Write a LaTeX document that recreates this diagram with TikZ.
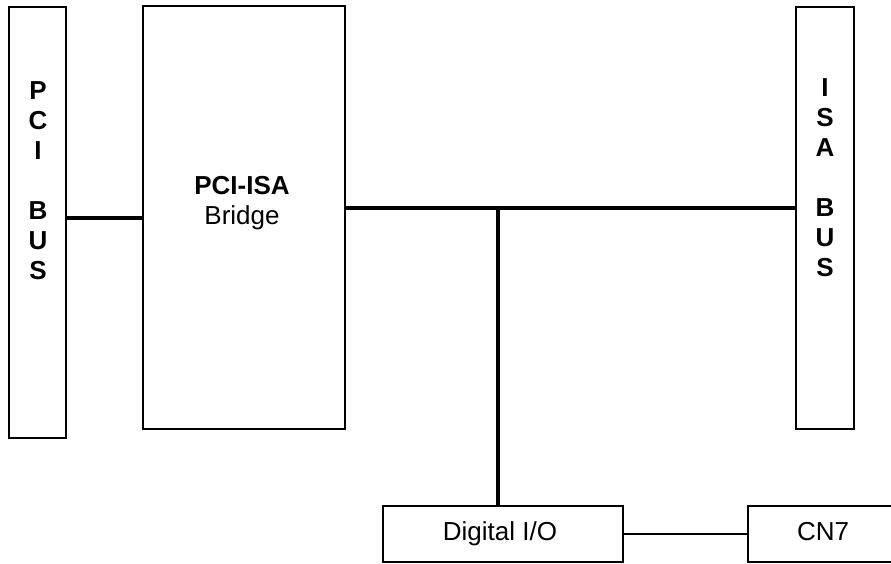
\documentclass[tikz,border=0pt]{standalone}
\usepackage{fontspec}
\setmainfont{Liberation Sans}
\begin{document}
\begin{tikzpicture}
[
    x=1pt, y=-1pt,
    box/.style={draw, line width=2pt, inner sep=0pt},
    busline/.style={line width=4.5pt},
    wire/.style={line width=2pt},
    lbl/.style={font=\fontsize{26}{30}\selectfont, align=center, inner sep=0pt},
]
\useasboundingbox (0,0) rectangle (891,563);
% boxes
\node[box, minimum width=57pt, minimum height=431pt] (pcibus) at (37.5,222.5) {};
\node[box, minimum width=202pt, minimum height=423pt] (bridge) at (244,217.5) {};
\node[box, minimum width=58pt, minimum height=422pt] (isabus) at (825,218) {};
\node[box, minimum width=240pt, minimum height=56pt] (dio) at (503,534) {};
\node[box, minimum width=150pt, minimum height=56pt] (cn7) at (823,534) {};
% texts
\node[lbl, font=\bfseries\fontsize{26}{30}\selectfont] (pcitext) at (38,181) {P\\C\\I\\\mbox{}\\B\\U\\S};
\node[lbl, font=\bfseries\fontsize{26}{30}\selectfont] (isatext) at (825,178) {I\\S\\A\\\mbox{}\\B\\U\\S};
\node[lbl] (bridgetext) at (242,203) {\textbf{PCI-ISA}\\Bridge};
\node[lbl, anchor=base] (diotext) at (500,540) {Digital I/O};
\node[lbl, anchor=base] (cntext) at (823,540) {CN7};
% connectors
\coordinate (tap) at (498,208);
\draw[busline] (pcibus.east |- 0,218) -- (bridge.west |- 0,218);
\draw[busline] (bridge.east |- tap) -- (isabus.west |- tap);
\draw[busline] (tap) -- (tap |- dio.north);
\draw[wire] (dio.east) -- (cn7.west);
\end{tikzpicture}
\end{document}
